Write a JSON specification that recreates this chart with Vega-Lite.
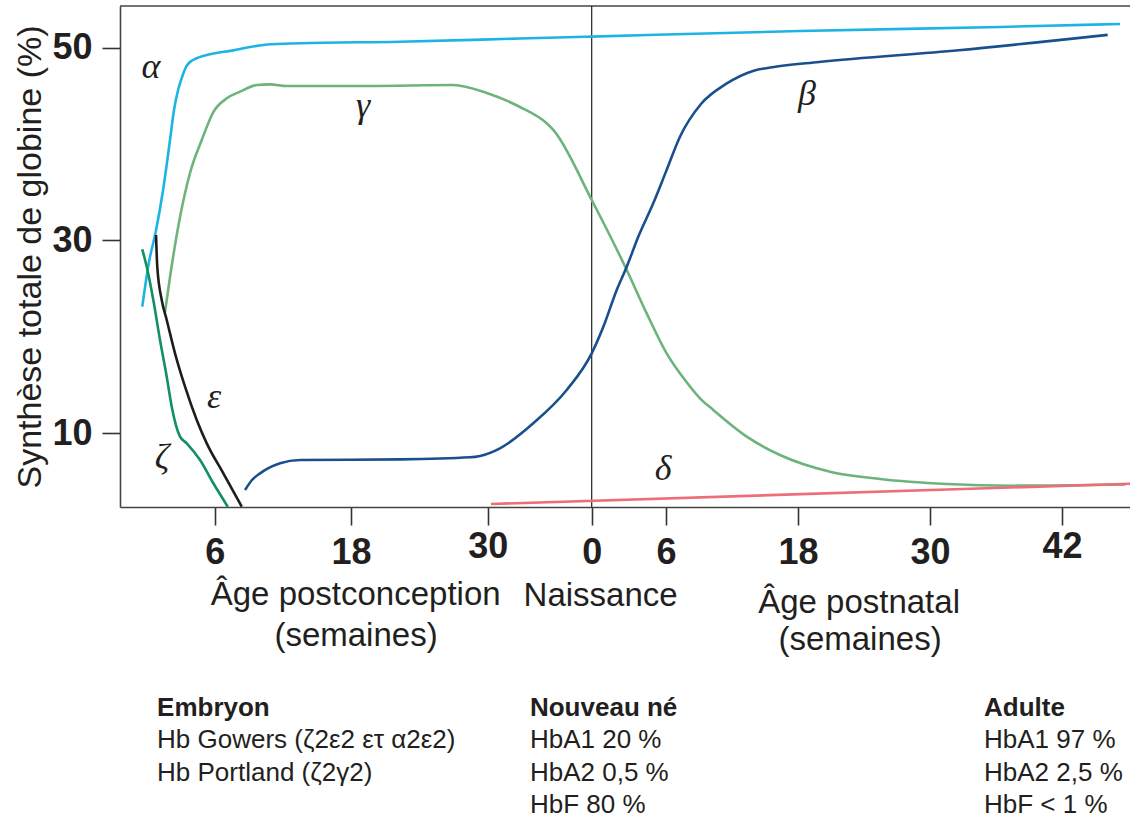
{
  "$schema": "https://vega.github.io/schema/vega-lite/v6.json",
  "width": 1010,
  "height": 501,
  "autosize": {"type": "none"},
  "padding": {"left": 120, "top": 6, "right": 0, "bottom": 311},
  "background": "white",
  "config": {"view": {"stroke": null}, "font": "Liberation Sans"},
  "datasets": {
    "curves": [
      {"g": "alpha", "t": -39.53, "v": 23.13}, {"g": "alpha", "t": -38.94, "v": 27.76}, {"g": "alpha", "t": -38.35, "v": 30.87},
      {"g": "alpha", "t": -37.70, "v": 35.23}, {"g": "alpha", "t": -37.09, "v": 40.41}, {"g": "alpha", "t": -36.74, "v": 43.52},
      {"g": "alpha", "t": -36.38, "v": 45.59}, {"g": "alpha", "t": -36.03, "v": 46.94}, {"g": "alpha", "t": -35.68, "v": 47.98},
      {"g": "alpha", "t": -35.33, "v": 48.50}, {"g": "alpha", "t": -34.80, "v": 48.86}, {"g": "alpha", "t": -34.10, "v": 49.14},
      {"g": "alpha", "t": -31.55, "v": 49.70}, {"g": "alpha", "t": -28.56, "v": 50.31}, {"g": "alpha", "t": -25.66, "v": 50.44},
      {"g": "alpha", "t": -16.86, "v": 50.60}, {"g": "alpha", "t": -6.31, "v": 50.93}, {"g": "alpha", "t": 0, "v": 51.13},
      {"g": "alpha", "t": 18.18, "v": 51.71}, {"g": "alpha", "t": 36.36, "v": 52.13}, {"g": "alpha", "t": 47.27, "v": 52.44},

      {"g": "gamma", "t": -37.53, "v": 22.58}, {"g": "gamma", "t": -37.09, "v": 26.21}, {"g": "gamma", "t": -36.21, "v": 32.43},
      {"g": "gamma", "t": -35.33, "v": 36.99}, {"g": "gamma", "t": -34.30, "v": 40.41}, {"g": "gamma", "t": -33.28, "v": 43.31},
      {"g": "gamma", "t": -32.10, "v": 44.73}, {"g": "gamma", "t": -30.93, "v": 45.42}, {"g": "gamma", "t": -29.46, "v": 46.11},
      {"g": "gamma", "t": -28.29, "v": 46.18}, {"g": "gamma", "t": -26.83, "v": 46.01}, {"g": "gamma", "t": -19.50, "v": 46.01},
      {"g": "gamma", "t": -12.17, "v": 46.11}, {"g": "gamma", "t": -9.23, "v": 45.28}, {"g": "gamma", "t": -6.31, "v": 43.83},
      {"g": "gamma", "t": -3.96, "v": 42.14}, {"g": "gamma", "t": -3.38, "v": 41.45}, {"g": "gamma", "t": 0, "v": 34.19},
      {"g": "gamma", "t": 2.83, "v": 26.93}, {"g": "gamma", "t": 4.44, "v": 22.44}, {"g": "gamma", "t": 6.06, "v": 18.29},
      {"g": "gamma", "t": 7.88, "v": 15.29}, {"g": "gamma", "t": 9.09, "v": 13.63}, {"g": "gamma", "t": 10.30, "v": 12.42},
      {"g": "gamma", "t": 13.34, "v": 9.65}, {"g": "gamma", "t": 16.36, "v": 7.75}, {"g": "gamma", "t": 20.91, "v": 6.02},
      {"g": "gamma", "t": 25.45, "v": 5.26}, {"g": "gamma", "t": 31.52, "v": 4.74}, {"g": "gamma", "t": 37.55, "v": 4.57},
      {"g": "gamma", "t": 47.73, "v": 4.69},

      {"g": "beta", "t": -30.49, "v": 4.12}, {"g": "beta", "t": -29.88, "v": 5.16}, {"g": "beta", "t": -29.17, "v": 5.85},
      {"g": "beta", "t": -27.41, "v": 6.89}, {"g": "beta", "t": -25.66, "v": 7.23}, {"g": "beta", "t": -16.86, "v": 7.30},
      {"g": "beta", "t": -10.70, "v": 7.51}, {"g": "beta", "t": -9.82, "v": 7.65}, {"g": "beta", "t": -8.07, "v": 8.44},
      {"g": "beta", "t": -5.14, "v": 11.04}, {"g": "beta", "t": -2.20, "v": 14.49}, {"g": "beta", "t": 0, "v": 18.29},
      {"g": "beta", "t": 0.94, "v": 21.05}, {"g": "beta", "t": 2.02, "v": 24.86}, {"g": "beta", "t": 2.83, "v": 27.27},
      {"g": "beta", "t": 3.76, "v": 30.38}, {"g": "beta", "t": 4.97, "v": 33.85}, {"g": "beta", "t": 6, "v": 37.13},
      {"g": "beta", "t": 7.27, "v": 40.75}, {"g": "beta", "t": 9.18, "v": 44.14}, {"g": "beta", "t": 11.45, "v": 46.22},
      {"g": "beta", "t": 13.98, "v": 47.60}, {"g": "beta", "t": 15.67, "v": 47.96}, {"g": "beta", "t": 19.91, "v": 48.50},
      {"g": "beta", "t": 32.61, "v": 49.72}, {"g": "beta", "t": 46.15, "v": 51.31},

      {"g": "epsilon", "t": -38.32, "v": 30.56}, {"g": "epsilon", "t": -38.21, "v": 27.27}, {"g": "epsilon", "t": -37.82, "v": 23.82},
      {"g": "epsilon", "t": -37.38, "v": 21.75}, {"g": "epsilon", "t": -36.65, "v": 18.29}, {"g": "epsilon", "t": -35.77, "v": 14.83},
      {"g": "epsilon", "t": -34.74, "v": 11.38}, {"g": "epsilon", "t": -33.86, "v": 8.96}, {"g": "epsilon", "t": -32.40, "v": 5.85},
      {"g": "epsilon", "t": -30.78, "v": 2.39},

      {"g": "zeta", "t": -39.53, "v": 29.08}, {"g": "zeta", "t": -39.14, "v": 27.27}, {"g": "zeta", "t": -38.56, "v": 23.82},
      {"g": "zeta", "t": -37.97, "v": 19.67}, {"g": "zeta", "t": -37.38, "v": 15.87}, {"g": "zeta", "t": -36.94, "v": 12.76},
      {"g": "zeta", "t": -36.21, "v": 9.65}, {"g": "zeta", "t": -35.62, "v": 8.96}, {"g": "zeta", "t": -34.45, "v": 7.23},
      {"g": "zeta", "t": -33.28, "v": 4.82}, {"g": "zeta", "t": -32.01, "v": 2.39},

      {"g": "delta", "t": -8.86, "v": 2.67}, {"g": "delta", "t": 48.18, "v": 4.77}
    ],
    "greek": [
      {"label": "α", "t": -38.76, "v": 46.84},
      {"label": "γ", "t": -20.11, "v": 42.79},
      {"label": "β", "t": 18.82, "v": 44.04},
      {"label": "ε", "t": -33.22, "v": 12.62},
      {"label": "ζ", "t": -37.79, "v": 6.30},
      {"label": "δ", "t": 5.76, "v": 5.16}
    ],
    "xlabels": [
      {"label": "Âge postconception", "t": -20.76, "v": -7.80},
      {"label": "(semaines)", "t": -20.73, "v": -12.05},
      {"label": "Naissance", "t": 0.72, "v": -7.91},
      {"label": "Âge postnatal", "t": 23.55, "v": -8.63},
      {"label": "(semaines)", "t": 23.64, "v": -12.46}
    ],
    "heads": [
      {"label": "Embryon", "t": -38.23, "v": -19.26},
      {"label": "Nouveau né", "t": -5.43, "v": -19.26},
      {"label": "Adulte", "t": 34.91, "v": -19.26}
    ],
    "body": [
      {"label": "Hb Gowers (ζ2ε2 ετ α2ε2)", "t": -38.23, "v": -22.63},
      {"label": "Hb Portland (ζ2γ2)", "t": -38.23, "v": -26.00},
      {"label": "HbA1 20 %", "t": -5.43, "v": -22.63},
      {"label": "HbA2 0,5 %", "t": -5.43, "v": -26.00},
      {"label": "HbF 80 %", "t": -5.43, "v": -29.32},
      {"label": "HbA1 97 %", "t": 34.91, "v": -22.63},
      {"label": "HbA2 2,5 %", "t": 34.91, "v": -26.00},
      {"label": "HbF < 1 %", "t": 34.91, "v": -29.32}
    ],
    "topline": [{"t": -41.49, "t2": 48.18, "v": 54.303}],
    "birth": [{"t": 0, "v": 2.359, "v2": 54.303}]
  },
  "encoding": {
    "x": {
      "field": "t",
      "type": "quantitative",
      "scale": {"domain": [-41.49, 0, 6, 48.18], "range": [0, 471.7, 546, 1010], "zero": false, "nice": false},
      "axis": {
        "values": [-33.15, -21.17, -9.15, 0, 6, 18, 30, 42],
        "labelExpr": "datum.value < 0 ? '' + round(datum.value + 39.15) : '' + round(datum.value)",
        "title": null,
        "grid": false,
        "domainColor": "#444",
        "domainWidth": 1.6,
        "tickColor": "#333",
        "tickWidth": 1.6,
        "tickSize": 18,
        "labelFont": "Liberation Sans",
        "labelFontSize": 36,
        "labelFontWeight": "bold",
        "labelColor": "#231f20",
        "labelPadding": {"condition": {"test": "datum.value == -9.15 || datum.value == 42", "value": 4}, "value": 10},
        "labelFlush": false,
        "labelOverlap": false
      }
    },
    "y": {
      "field": "v",
      "type": "quantitative",
      "scale": {"domain": [2.359, 54.303], "zero": false, "nice": false},
      "axis": {
        "values": [10, 30, 50],
        "title": "Synthèse totale de globine (%)",
        "titleFont": "Liberation Sans",
        "titleFontSize": 34,
        "titleFontWeight": "normal",
        "titleColor": "#231f20",
        "titlePadding": 4,
        "grid": false,
        "domainColor": "#444",
        "domainWidth": 1.6,
        "tickColor": "#333",
        "tickWidth": 1.6,
        "tickSize": 18,
        "labelFont": "Liberation Sans",
        "labelFontSize": 36,
        "labelFontWeight": "bold",
        "labelColor": "#231f20",
        "labelPadding": 10
      }
    }
  },
  "layer": [
    {
      "data": {"name": "topline"},
      "mark": {"type": "rule", "color": "#444", "strokeWidth": 1.6},
      "encoding": {"x2": {"field": "t2"}}
    },
    {
      "data": {"name": "birth"},
      "mark": {"type": "rule", "color": "#231f20", "strokeWidth": 1.2},
      "encoding": {"y2": {"field": "v2"}}
    },
    {
      "data": {"name": "curves"},
      "mark": {"type": "line", "strokeWidth": 2.6, "interpolate": "monotone"},
      "encoding": {
        "color": {
          "field": "g",
          "type": "nominal",
          "scale": {"domain": ["alpha", "gamma", "beta", "epsilon", "zeta", "delta"], "range": ["#1db4e3", "#6db37c", "#1a4f8d", "#1d1d1b", "#139060", "#ee6e78"]},
          "legend": null
        },
        "detail": {"field": "g"}
      }
    },
    {
      "data": {"name": "greek"},
      "mark": {"type": "text", "font": "Liberation Serif", "fontStyle": "italic", "fontSize": 36, "align": "center", "baseline": "alphabetic", "color": "#231f20"},
      "encoding": {"text": {"field": "label"}}
    },
    {
      "data": {"name": "xlabels"},
      "mark": {"type": "text", "font": "Liberation Sans", "fontSize": 33, "align": "center", "baseline": "alphabetic", "color": "#231f20"},
      "encoding": {"text": {"field": "label"}}
    },
    {
      "data": {"name": "heads"},
      "mark": {"type": "text", "font": "Liberation Sans", "fontSize": 26, "fontWeight": "bold", "align": "left", "baseline": "alphabetic", "color": "#231f20"},
      "encoding": {"text": {"field": "label"}}
    },
    {
      "data": {"name": "body"},
      "mark": {"type": "text", "font": "Liberation Sans", "fontSize": 26, "align": "left", "baseline": "alphabetic", "color": "#231f20"},
      "encoding": {"text": {"field": "label"}}
    }
  ]
}
